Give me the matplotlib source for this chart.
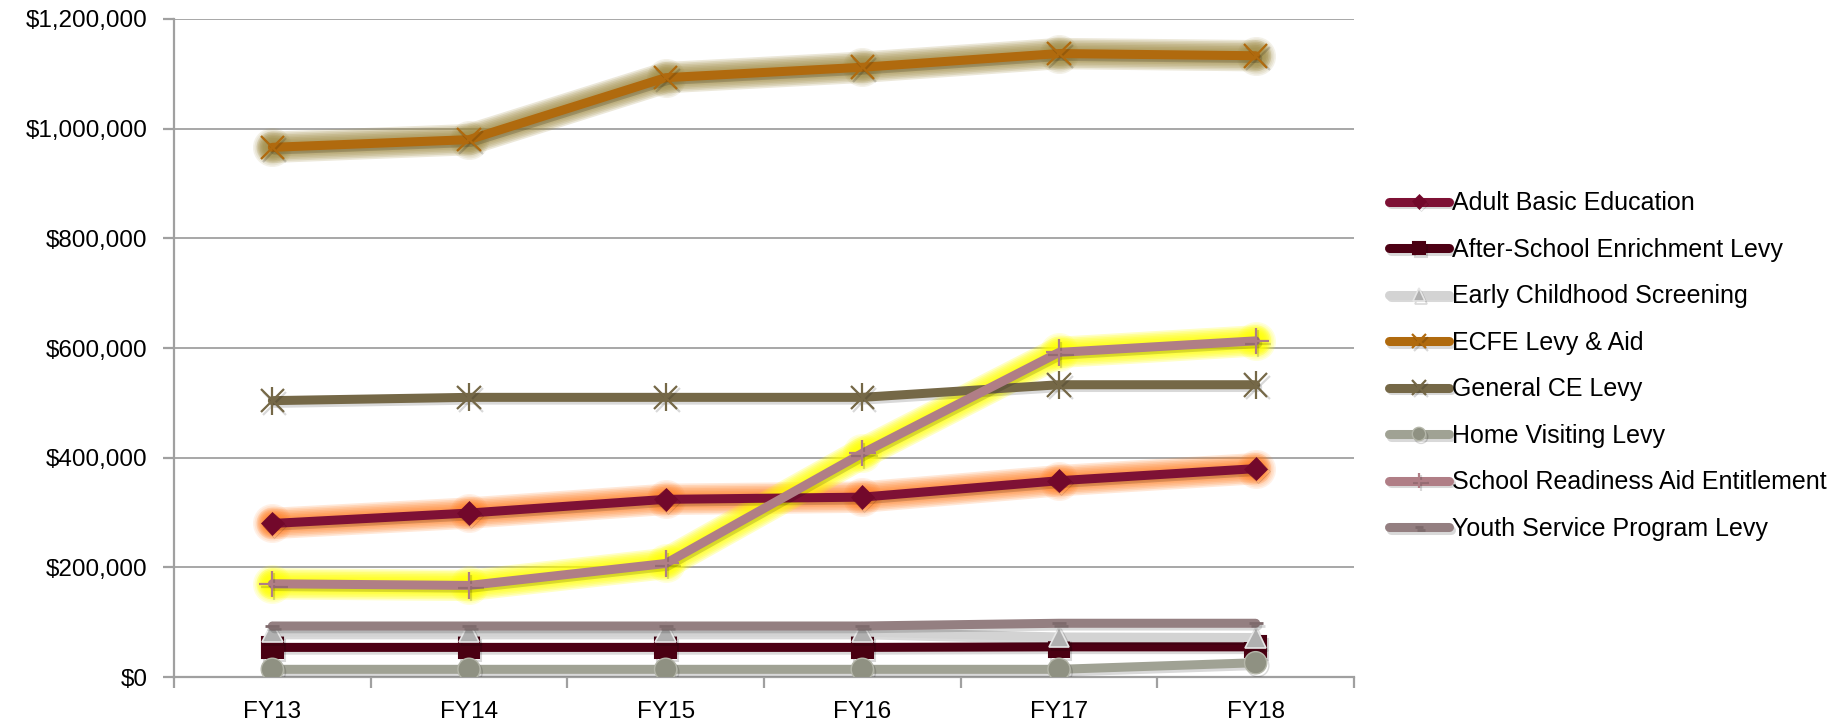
import matplotlib
matplotlib.use("Agg")
import matplotlib.pyplot as plt
import matplotlib.patheffects as pe
from matplotlib.ticker import FuncFormatter, FixedLocator

# data
years = ["FY13", "FY14", "FY15", "FY16", "FY17", "FY18"]
adult_basic = [280000, 299000, 324000, 328000, 358000, 380000]
after_school = [54000, 54000, 54000, 54000, 55000, 55000]
early_screening = [82000, 82000, 82000, 82000, 73000, 72000]
ecfe = [966000, 980000, 1093000, 1112000, 1137000, 1133000]
general_ce = [504000, 510000, 510000, 510000, 533000, 533000]
home_visiting = [14000, 14000, 14000, 14000, 14000, 26000]
school_readiness = [170000, 167000, 207000, 408000, 592000, 613000]
youth_service = [93000, 93000, 93000, 93000, 98000, 98000]

x = list(range(len(years)))

fig = plt.figure(figsize=(18.47, 7.22), dpi=100)
ax = fig.add_axes([174 / 1847, 1 - 677 / 722, (1354 - 174) / 1847, (677 - 19) / 722])

LW = 6.5
shadow = [pe.SimpleLineShadow(offset=(1.5, -2.0), shadow_color="k", alpha=0.15), pe.Normal()]


def glow(vals, color, z, a=0.17):
    # soft outer glow like the Excel effect
    for k in range(1, 8):
        ax.plot(x, vals, color=color, lw=LW + 2.3 * k, alpha=a,
                solid_capstyle="round", solid_joinstyle="round", zorder=z)
        ax.plot(x, vals, "o", color=color, ms=12 + 2.3 * k, mew=0, alpha=a * 0.6, zorder=z)


def series(vals, label, color, marker, ms, mfc=None, mec=None, mew=1.5, z=3):
    line, = ax.plot(x, vals, color=color, lw=LW, marker=marker, ms=ms,
                    mfc=mfc or color, mec=mec or color, mew=mew, label=label,
                    solid_capstyle="round", solid_joinstyle="round", zorder=z,
                    path_effects=shadow)
    return line


glow(adult_basic, "#FF7A1A", 2)
series(adult_basic, "Adult Basic Education", "#7E1135", "D", 12, mfc="#72082B", mec="#72082B", mew=0.5)
series(after_school, "After-School Enrichment Levy", "#4D0014", "s", 15, mfc="#4A0012", mec="#4A0012")
series(early_screening, "Early Childhood Screening", "#D3D3D3", "^", 15, mfc="#B0B0B0", mec="#E6E6E6", mew=1.2)
glow(ecfe, "#A08C45", 2, a=0.2)
series(ecfe, "ECFE Levy & Aid", "#B06A0E", "x", 17, mew=1.6)
series(general_ce, "General CE Levy", "#756847", "x", 17, mew=1.6)
ax.plot(x, general_ce, "|", ms=20, color="#756847", mew=1.6, zorder=3)
series(home_visiting, "Home Visiting Levy", "#A0A294", "o", 16, mfc="#8F9182", mec="#B4B6A9", mew=1.0)
glow(school_readiness, "#FFFF00", 2, a=0.22)
series(school_readiness, "School Readiness Aid Entitlement", "#B07E86", "+", 19, mew=1.6)
series(youth_service, "Youth Service Program Levy", "#947F81", "_", 10, mfc="#7E6A6C", mec="#7E6A6C", mew=2)

# axes styling
ax.set_xlim(-0.5, len(years) - 0.5)
ax.set_ylim(0, 1200000)
ax.set_yticks(range(0, 1200001, 200000))
ax.yaxis.set_major_formatter(FuncFormatter(lambda v, p: "${:,.0f}".format(v)))
ax.grid(axis="y", color="#A0A0A0", lw=1.3, zorder=0)
ax.set_axisbelow(True)
for s in ["top", "right"]:
    ax.spines[s].set_visible(False)
for s in ["left", "bottom"]:
    ax.spines[s].set_color("#A0A0A0")
    ax.spines[s].set_linewidth(1.6)

ax.set_xticks(x)
ax.set_xticklabels(years)
ax.xaxis.set_minor_locator(FixedLocator([i - 0.5 for i in range(len(years) + 1)]))
ax.tick_params(axis="x", which="major", length=0, pad=17)
ax.tick_params(axis="x", which="minor", length=8, width=1.6, color="#A0A0A0", direction="out")
ax.tick_params(axis="y", length=8, width=1.6, color="#A0A0A0", pad=11)
for t in ax.get_xticklabels():
    t.set_fontfamily(["Liberation Sans", "DejaVu Sans"])
    t.set_fontsize(17.5)
for t in ax.get_yticklabels():
    t.set_fontfamily(["Liberation Sans", "DejaVu Sans"])
    t.set_fontsize(17.5)

handles, labels = ax.get_legend_handles_labels()
leg = fig.legend(handles, labels, loc="center left", bbox_to_anchor=(1389 / 1847, 1 - 366 / 722),
                 bbox_transform=fig.transFigure, frameon=False, numpoints=1, markerscale=0.6,
                 handlelength=2.4, handletextpad=0.1, labelspacing=0.9,
                 borderpad=0, borderaxespad=0,
                 prop={"family": ["Liberation Sans", "DejaVu Sans"], "size": 18})

fig.savefig("out.png", dpi=100)
